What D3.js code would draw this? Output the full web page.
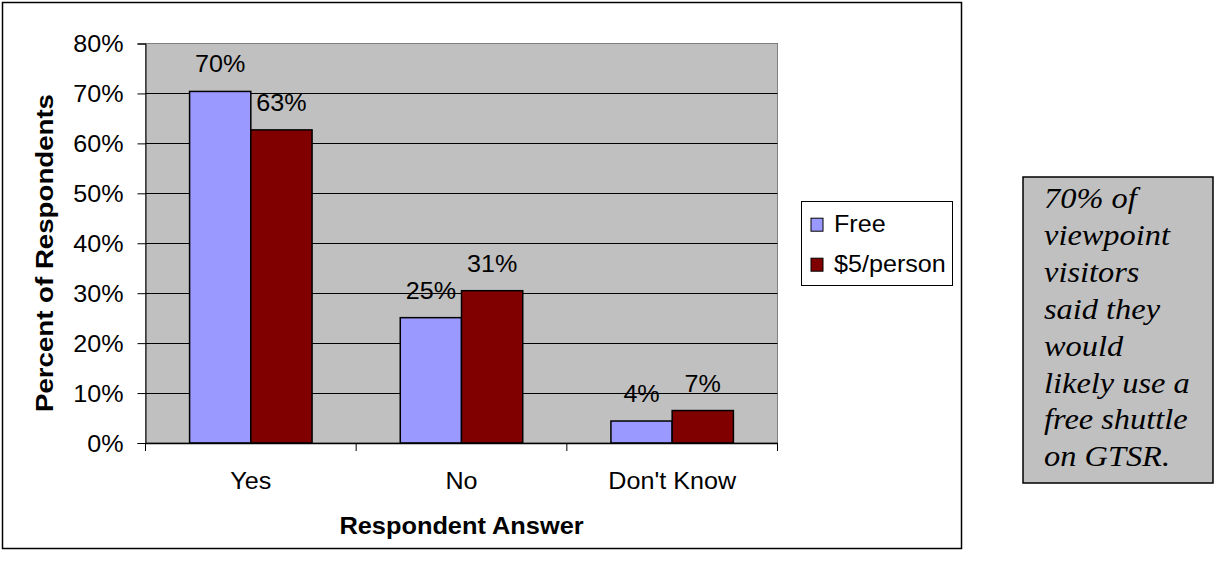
<!DOCTYPE html>
<html>
<head>
<meta charset="utf-8">
<script src="https://cdn.jsdelivr.net/npm/d3@7/dist/d3.min.js"></script>
<style>
  html, body { margin: 0; padding: 0; background: #fff; }
  svg { display: block; }
</style>
</head>
<body>
<svg id="chart" width="1215" height="574"></svg>
<script>
// Survey answers: would respondents use the shuttle?
const categories = ["Yes", "No", "Don't Know"];
const seriesNames = ["Free", "$5/person"];
const freeValues = [70.4, 25.1, 4.4];
const paidValues = [62.7, 30.5, 6.5];
const yTicks = [0, 10, 20, 30, 40, 50, 60, 70, 80];
const noteLines = ["70% of", "viewpoint", "visitors", "said they", "would",
                   "likely use a", "free shuttle", "on GTSR."];

const colors = { "Free": "#9999FF", "$5/person": "#800000" };
const SANS = "'Liberation Sans', Arial, sans-serif";
const SERIF = "'Liberation Serif', 'Times New Roman', serif";
const SX = 1.07;          // horizontal text widening used throughout
const FONT = 23.5;

const svg = d3.select("#chart");

// outer chart frame
svg.append("rect")
  .attr("x", 2.5).attr("y", 2.5).attr("width", 959).attr("height", 546)
  .attr("fill", "#fff").attr("stroke", "#000").attr("stroke-width", 1.5);

const plot = { left: 145.5, right: 777.5, top: 43.5, bottom: 443 };

const x = d3.scaleBand().domain(categories).range([plot.left, plot.right]).paddingInner(0).paddingOuter(0);
const xInner = d3.scaleBand().domain(seriesNames).range([0, x.bandwidth()]).paddingInner(0).paddingOuter(0.72);
const y = d3.scaleLinear().domain([0, 80]).range([plot.bottom, plot.top]);

// plot area background
svg.append("rect")
  .attr("x", plot.left).attr("y", plot.top)
  .attr("width", plot.right - plot.left).attr("height", plot.bottom - plot.top)
  .attr("fill", "#C0C0C0").attr("stroke", "#808080").attr("stroke-width", 1);

// horizontal gridlines
svg.append("g").selectAll("line")
  .data(yTicks.filter(t => t > 0 && t < 80))
  .join("line")
  .attr("x1", plot.left).attr("x2", plot.right)
  .attr("y1", d => Math.round(y(d)) + 0.5).attr("y2", d => Math.round(y(d)) + 0.5)
  .attr("stroke", "#000").attr("stroke-width", 1);

// bars
const rows = categories.map((c, i) => ({ cat: c, vals: [
  { s: "Free", v: freeValues[i] }, { s: "$5/person", v: paidValues[i] } ] }));

const groups = svg.append("g").selectAll("g")
  .data(rows).join("g")
  .attr("transform", d => `translate(${x(d.cat)},0)`);

groups.selectAll("rect")
  .data(d => d.vals).join("rect")
  .attr("x", d => xInner(d.s))
  .attr("y", d => y(d.v))
  .attr("width", xInner.bandwidth())
  .attr("height", d => y(0) - y(d.v))
  .attr("fill", d => colors[d.s])
  .attr("stroke", "#000").attr("stroke-width", 1.5);

// value labels above the bars
groups.selectAll("text")
  .data(d => d.vals).join("text")
  .attr("text-anchor", "middle")
  .style("font-family", SANS).style("font-size", FONT + "px")
  .attr("transform", d => `translate(${xInner(d.s) + xInner.bandwidth() / 2},${y(d.v) - 19}) scale(${SX},1)`)
  .text(d => Math.round(d.v) + "%");

// y axis
const yAxis = svg.append("g")
  .attr("transform", `translate(${plot.left},0)`)
  .call(d3.axisLeft(y).tickValues(yTicks).tickSize(8).tickFormat(d => d + "%"));
yAxis.select(".domain").attr("stroke", "#000").attr("stroke-width", 1);
yAxis.selectAll(".tick line").attr("stroke", "#000");
yAxis.selectAll(".tick text")
  .attr("x", null).attr("dy", "0.36em")
  .style("font-family", SANS).style("font-size", FONT + "px")
  .attr("fill", "#000")
  .attr("transform", `translate(-22,0) scale(${SX},1)`);

// x axis with tick marks at the category boundaries
const xAxis = svg.append("g")
  .attr("transform", `translate(0,${plot.bottom})`)
  .call(d3.axisBottom(x).tickSize(0));
xAxis.select(".domain").attr("stroke", "#000").attr("stroke-width", 1.5);
xAxis.selectAll(".tick text")
  .attr("y", null).attr("dy", null)
  .style("font-family", SANS).style("font-size", FONT + "px")
  .attr("fill", "#000")
  .attr("transform", `translate(0,46) scale(${SX},1)`);

const bounds = categories.map(c => x(c)).concat([x.range()[1]]);
svg.append("g").selectAll("line")
  .data(bounds).join("line")
  .attr("x1", d => d).attr("x2", d => d)
  .attr("y1", plot.bottom).attr("y2", plot.bottom + 8)
  .attr("stroke", "#000").attr("stroke-width", 1);

// axis titles
svg.append("text")
  .attr("text-anchor", "middle")
  .style("font-family", SANS).style("font-size", FONT + "px").style("font-weight", "bold")
  .attr("transform", `translate(${(plot.left + plot.right) / 2},534) scale(1.08,1)`)
  .text("Respondent Answer");

svg.append("text")
  .attr("text-anchor", "middle")
  .style("font-family", SANS).style("font-size", FONT + "px").style("font-weight", "bold")
  .attr("transform", "translate(53,253) rotate(-90)")
  .attr("textLength", 318).attr("lengthAdjust", "spacingAndGlyphs")
  .text("Percent of Respondents");

// legend
const legend = svg.append("g");
legend.append("rect")
  .attr("x", 801.5).attr("y", 201.5).attr("width", 151).attr("height", 84)
  .attr("fill", "#fff").attr("stroke", "#000").attr("stroke-width", 1);
const legendRow = d3.scalePoint().domain(seriesNames).range([231.7, 271.7]);
legend.selectAll("rect.sw")
  .data(seriesNames).join("rect")
  .attr("class", "sw")
  .attr("x", 811).attr("y", d => legendRow(d) - 13.5)
  .attr("width", 12).attr("height", 13)
  .attr("fill", d => colors[d]).attr("stroke", "#000").attr("stroke-width", 1);
legend.selectAll("text")
  .data(seriesNames).join("text")
  .style("font-family", SANS).style("font-size", FONT + "px")
  .attr("transform", d => `translate(834,${legendRow(d)}) scale(${SX},1)`)
  .text(d => d);

// side note box
const note = svg.append("g");
note.append("rect")
  .attr("x", 1023).attr("y", 177).attr("width", 190).attr("height", 306)
  .attr("fill", "#C0C0C0").attr("stroke", "#000").attr("stroke-width", 1.5);
note.selectAll("text")
  .data(noteLines).join("text")
  .style("font-family", SERIF).style("font-style", "italic").style("font-size", "30px")
  .attr("transform", (d, i) => `translate(1044,${208 + i * 36.9}) scale(1.08,1)`)
  .text(d => d);
</script>
</body>
</html>
